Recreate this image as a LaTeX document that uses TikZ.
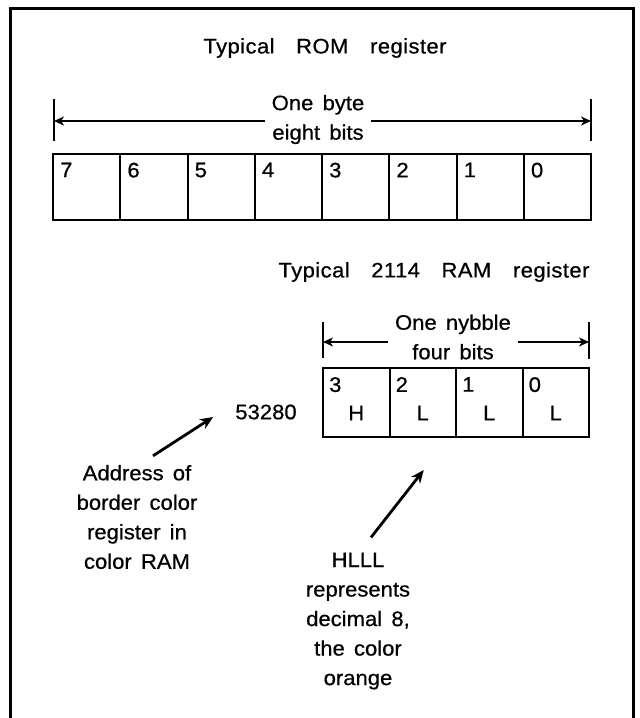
\documentclass[tikz,border=0pt]{standalone}
\usepackage{fontspec}
\setmainfont{Liberation Sans}[FakeStretch=1.05,FakeBold=0.6,WordSpace=1.5]
\newfontfamily\titlefont{Liberation Sans}[FakeStretch=1.05,FakeBold=0.6,WordSpace=3.3,LetterSpace=2]
\usetikzlibrary{arrows.meta,positioning}
\tikzset{
    regframe/.style={
        line width=3pt
    },
    bitcell/.style={
        draw,
        line width=2pt,
        minimum width=67.25pt,
        minimum height=66pt,
        inner sep=0pt
    },
    nybblecell/.style={
        bitcell,
        minimum width=66.5pt,
        minimum height=69pt
    },
    bitnumber/.style={
        anchor=north west,
        inner sep=0pt,
        font=\fontsize{21}{24}\selectfont
    },
    caption/.style={
        align=center,
        inner sep=2pt,
        font=\fontsize{21}{29.5}\selectfont
    },
    regtitle/.style={
        caption,
        font=\titlefont\fontsize{21}{29.5}\selectfont
    },
    widthlabel/.style={
        caption,
        inner xsep=7pt
    },
    widthtick/.style={
        line width=2.5pt
    },
    widtharrow/.style={
        -{Stealth[length=10pt,width=9pt,inset=3pt]},
        line width=1.6pt
    },
    pointer/.style={
        -{Stealth[length=13pt,width=11pt,inset=4pt]},
        line width=2.8pt
    }
}

\begin{document}
\begin{tikzpicture}[x=1pt,y=-1pt]
    \useasboundingbox (0,0) rectangle (640,718);
    \draw[regframe] (10,718) -- (10,8.5) -- (633,8.5) -- (633,718);

    % ROM register, one byte
    \node[regtitle] (romtitle) at (325,48) {Typical ROM register};
    \foreach \b [count=\i from 0] in {7,6,...,0} {
        \node[bitcell] (rom\b) at ({53+67.25*(\i+0.5)},186.5) {};
        \node[bitnumber] at ([shift={(8pt,-10pt)}]rom\b.north west) {\b};
    }
    \coordinate (byteleft) at (54,121);
    \coordinate (byteright) at (591,121);
    \draw[widthtick] ([yshift=22pt]byteleft) -- ([yshift=-20pt]byteleft);
    \draw[widthtick] ([yshift=22pt]byteright) -- ([yshift=-20pt]byteright);
    \node[widthlabel] (bytelabel) at (318,119.5) {One byte\\eight bits};
    \draw[widtharrow] (bytelabel.west |- byteleft) -- (byteleft);
    \draw[widtharrow] (bytelabel.east |- byteright) -- (byteright);

    % 2114 RAM register, one nybble
    \node[regtitle] (ramtitle) at (434,272) {Typical 2114 RAM register};
    \foreach \b/\lvl [count=\i from 0] in {3/H,2/L,1/L,0/L} {
        \node[nybblecell] (ram\b) at ({323+66.5*(\i+0.5)},402.5) {};
        \node[bitnumber] at ([shift={(7pt,-10pt)}]ram\b.north west) {\b};
        \node[caption, inner sep=0pt] at ([yshift=-10.5pt]ram\b.center) {\lvl};
    }
    \coordinate (nybbleleft) at (323,342);
    \coordinate (nybbleright) at (589,342);
    \draw[widthtick] ([yshift=20pt]nybbleleft) -- ([yshift=-16pt]nybbleleft);
    \draw[widthtick] ([yshift=20pt]nybbleright) -- ([yshift=-17pt]nybbleright);
    \node[widthlabel] (nybblelabel) at (453,337) {One nybble\\four bits};
    \draw[widtharrow] (nybblelabel.west |- nybbleleft) -- (nybbleleft);
    \draw[widtharrow] (nybblelabel.east |- nybbleright) -- (nybbleright);

    % notes
    \node[caption] (colorreg) at (266,412) {53280};
    \node[caption] (addrnote) at (137,517)
        {Address of\\border color\\register in\\color RAM};
    \node[caption] (valuenote) at (358,621)
        {HLLL\\represents\\decimal 8,\\the color\\orange};
    \draw[pointer] ([shift={(16pt,7pt)}]addrnote.north)
        -- ([shift={(-20pt,-5pt)}]colorreg.west);
    \draw[pointer] ([shift={(13pt,13pt)}]valuenote.north)
        -- ([shift={(1pt,-32pt)}]ram2.south);
\end{tikzpicture}
\end{document}
